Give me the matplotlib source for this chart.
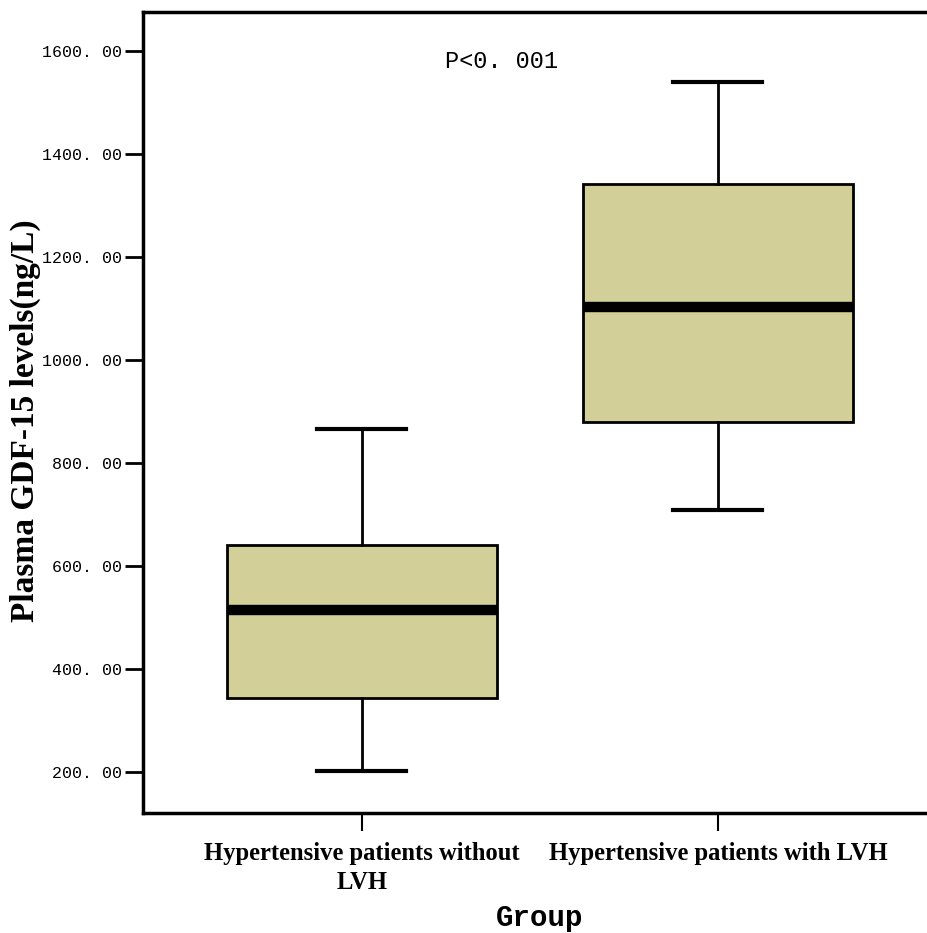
import matplotlib
matplotlib.use("Agg")
import matplotlib.pyplot as plt
from matplotlib.ticker import FixedLocator, FuncFormatter

categories = ["Hypertensive patients without\nLVH", "Hypertensive patients with LVH"]
whisker_low = [202, 709]
q1 = [344, 880]
median = [515, 1103]
q3 = [641, 1342]
whisker_high = [866, 1540]
yticks = [200, 400, 600, 800, 1000, 1200, 1400, 1600]
p_text = "P<0. 001"

fig = plt.figure(figsize=(9.28, 9.33), dpi=100)
ax = fig.add_axes([143/928, (933-813)/933, (937-143)/928, (813-12)/933])

stats = []
for i in range(len(categories)):
    stats.append(dict(med=median[i], q1=q1[i], q3=q3[i],
                      whislo=whisker_low[i], whishi=whisker_high[i], fliers=[]))

ax.bxp(stats, positions=[1, 2], widths=0.758, capwidths=0.25, patch_artist=True,
       showfliers=False,
       boxprops=dict(facecolor="#D3CF98", edgecolor="black", linewidth=2),
       medianprops=dict(color="black", linewidth=7.5, solid_capstyle="butt"),
       whiskerprops=dict(color="black", linewidth=2),
       capprops=dict(color="black", linewidth=3))

ax.set_xlim(1 - 219/356, 2 + 219/356)
ax.set_ylim(120.4, 1675.7)
ax.yaxis.set_major_locator(FixedLocator(yticks))
ax.yaxis.set_major_formatter(FuncFormatter(lambda v, p: "%d. 00" % v))
ax.set_xticks([1, 2])
ax.set_xticklabels(categories, fontfamily="Liberation Serif", fontweight="bold",
                   fontsize=17.7, linespacing=1.3)
for lab in ax.get_yticklabels():
    lab.set_fontfamily("Liberation Mono")
    lab.set_fontsize(12)
ax.tick_params(axis="y", direction="out", length=13, width=2, pad=2)
ax.tick_params(axis="x", direction="out", length=13, width=1.5, pad=8)
for s in ax.spines.values():
    s.set_linewidth(2.5)

ax.set_ylabel("Plasma GDF-15 levels(ng/L)", fontfamily="Liberation Serif",
              fontweight="bold", fontsize=24)
ax.yaxis.label.set_va("center")
ax.yaxis.set_label_coords((25-143)/794, 0.49)
ax.set_xlabel("Group", fontfamily="Liberation Mono", fontweight="bold", fontsize=21)
ax.xaxis.label.set_va("baseline")
ax.xaxis.set_label_coords(0.5, (813-926)/801)
ax.text(0.451, 0.9376, p_text, transform=ax.transAxes, ha="center", va="center",
        fontfamily="Liberation Mono", fontsize=17)

fig.savefig("out.png", dpi=100)
